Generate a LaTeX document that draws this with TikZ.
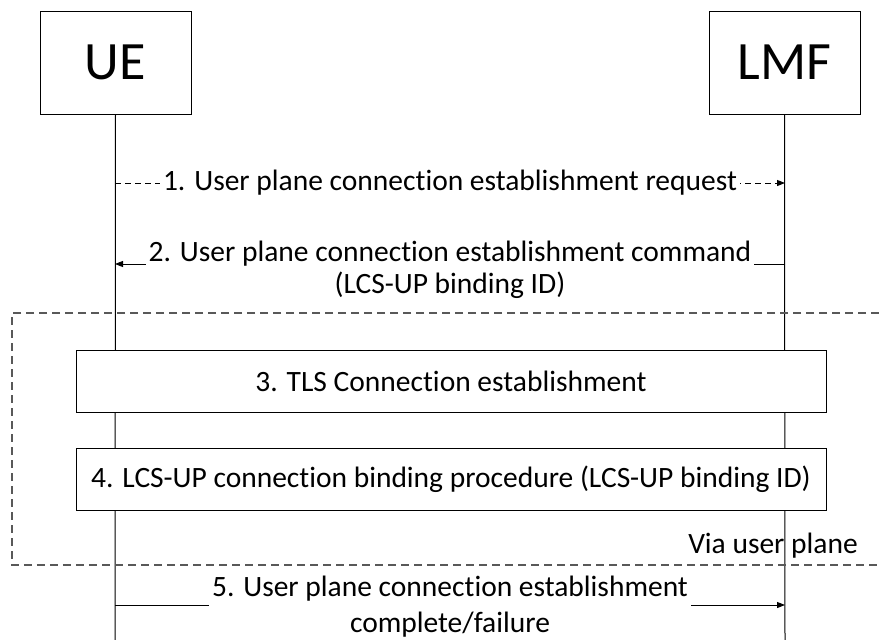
\documentclass[tikz,border=0pt]{standalone}
\usepackage{fontspec}
\setmainfont{Carlito}[Ligatures=NoCommon]
\usepackage{tikz}
\usetikzlibrary{arrows.meta}

\begin{document}
\begin{tikzpicture}[x=1pt,y=-1pt,
	entity/.style={shape=rectangle,draw=black,thick,fill=white,minimum width=151pt,minimum height=103pt,inner sep=0pt,font=\fontsize{54}{60}\selectfont},
	procbox/.style={shape=rectangle,draw=black,thick,fill=white,minimum width=750pt,inner sep=0pt,font=\fontsize{29.5}{32}\selectfont},
	msgtext/.style={fill=white,inner sep=3pt,align=center,font=\fontsize{29.5}{32}\selectfont},
	lifeline/.style={line width=1pt,black},
	msg/.style={line width=1pt,black,-{Triangle[length=8pt,width=6pt]}},
	region/.style={line width=1.2pt,black!65,dash pattern=on 8pt off 5pt}]
			\useasboundingbox (0,0) rectangle (879,640);
			\node[entity] (ue) at (115.5,62.5) {UE};
			\node[entity] (lmf) at (784.5,62.5) {LMF};
			\coordinate (ueend) at (115,640);
			\coordinate (lmfend) at (785,640);
			%% lifelines
			\draw[lifeline] (ue.south) -- (ueend);
			\draw[lifeline] (lmf.south) -- (lmfend);
			%% user plane region
			\coordinate (rtop) at (879,313);
			\coordinate (rtl) at (12,313);
			\coordinate (rbl) at (12,565);
			\coordinate (rbot) at (879,565);
			\draw[region] (rtop) -- (rtl) -- (rbl) -- (rbot);
			\node[anchor=base east,inner sep=0pt,font=\fontsize{29.5}{32}\selectfont] (via) at (858,553) {Via user plane};
			%% boxes
			\node[procbox,minimum height=62.5pt] (tls) at (451,381.25) {3. TLS Connection establishment};
			\node[procbox,minimum height=62pt] (bind) at (451,479) {4. LCS-UP connection binding procedure (LCS-UP binding ID)};
			%% messages
			\coordinate (ue1) at (115,183);
			\coordinate (lmf1) at (785,183);
			\coordinate (ue2) at (115,264);
			\coordinate (lmf2) at (785,264);
			\coordinate (ue5) at (115,605);
			\coordinate (lmf5) at (785,605);
			\draw[msg,dash pattern=on 6pt off 4pt] (ue1) -- node[msgtext] (m1) {1. User plane connection establishment request} (lmf1);
			\draw[msg] (lmf2) -- node[msgtext,yshift=-6pt] (m2) {2. User plane connection establishment command\\(LCS-UP binding ID)} (ue2);
			\draw[msg] (ue5) -- node[msgtext,yshift=-2pt] (m5) {5. User plane connection establishment\\[4pt]complete/failure} (lmf5);
		\end{tikzpicture}
\end{document}
